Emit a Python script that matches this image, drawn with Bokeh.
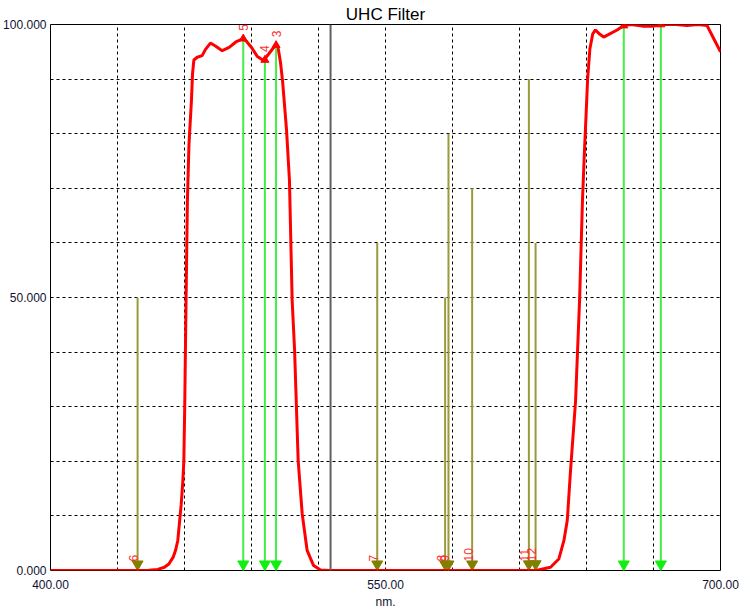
import numpy as np
from bokeh.plotting import figure
from bokeh.models import Range1d, FixedTicker, Span
from bokeh.embed import file_html
from bokeh.resources import INLINE
from bokeh.core.properties import value

# ---------------- data ----------------
wavelength_nm = [400, 430, 440, 444, 448, 451, 453, 455, 456, 457, 457.8, 458.5, 459.2,
                 459.7, 460.1, 460.4, 460.7, 461.3, 462.0, 463.1, 463.6, 464.2, 465.7,
                 467.9, 469.5, 471.6, 474.0, 476.9, 480.0, 483.0, 486.3, 488.0, 490.0,
                 492.5, 495.4, 497.5, 500.7, 502.0, 503.0, 503.9, 505.7, 507.0, 508.2,
                 509.3, 510.9, 512.7, 514.9, 517.8, 520.9, 525, 560, 600, 612, 617.9,
                 623.9, 627.6, 629.9, 631.4, 632.8, 635.1, 636.9, 638.2, 639.1, 639.7,
                 640.5, 641.5, 642.8, 644.0, 646.0, 647.7, 650.0, 653.7, 656.7, 660, 665,
                 670, 675, 680, 685, 690, 694, 697, 700]
transmission_pct = [0, 0, 0, 0.05, 0.2, 0.6, 1.2, 2.5, 3.7, 5.5, 9, 12, 16,
                    20, 30, 40, 49.5, 67.8, 78, 86, 91, 93.5, 94,
                    94.3, 95.5, 96.6, 96.0, 95.2, 95.8, 96.8, 97.4, 96.8, 95.8,
                    94.2, 93.4, 94.5, 96.2, 95.5, 93.0, 89.7, 80.6, 71.4, 49.5,
                    40.3, 20.1, 10.4, 3.7, 0.9, 0.1, 0, 0, 0, 0, 0.05,
                    0.6, 2.1, 5.5, 9.2, 18, 31, 49.5, 67.8, 77, 82.4,
                    90.0, 95.5, 98.3, 99.0, 98.2, 97.7, 98.2, 99.0, 99.8, 100, 99.7,
                    99.7, 100, 100, 99.8, 100, 99.8, 97.4, 95.0]

green_nm = [486.3, 496.0, 501.0, 656.7, 673.3]
green_pct = [97.4, 93.5, 96.2, 99.8, 100.0]
green_labels = ["5", "4", "3", "2", "1"]

olive_nm = [439.0, 546.3, 576.7, 578.2, 588.8, 614.2, 617.2]
olive_top = [50, 60, 50, 80, 70, 90, 60]
olive_labels = ["6", "7", "8", "9", "10", "11", "12"]

cursor_nm = 525.4

x_tick_values = [400, 550, 700]
x_tick_labels = ["400.00", "550.00", "700.00"]
y_tick_values = [0, 50, 100]
y_tick_labels = ["0.000", "50.000", "100.000"]
x_grid_values = [430, 460, 490, 520, 550, 580, 610, 640, 670]
y_grid_values = [10, 20, 30, 40, 50, 60, 70, 80, 90]

title_text = "UHC Filter"
x_label = "nm."

# ---------------- figure ----------------
FONT = "Liberation Sans"
W, H = 750, 611
B_LEFT, B_RIGHT, B_TOP, B_BOTTOM = 50, 30, 24, 41
p = figure(width=W, height=H, output_backend="svg", toolbar_location=None,
           x_range=Range1d(400, 700), y_range=Range1d(0, 100),
           min_border_left=B_LEFT, min_border_right=B_RIGHT, min_border_top=B_TOP,
           min_border_bottom=B_BOTTOM, title=title_text)
p.background_fill_color = "white"
p.border_fill_color = "white"
p.outline_line_color = "black"
p.outline_line_width = 1

p.title.align = "center"
p.title.text_font = FONT
p.title.text_font_size = "17px"
p.title.text_font_style = "normal"
p.title.text_color = "black"
p.title.standoff = 2
p.title.offset = 0

# axes
for ax in (p.xaxis[0], p.yaxis[0]):
    ax.major_tick_line_color = None
    ax.minor_tick_line_color = None
    ax.axis_line_color = None
    ax.major_tick_out = 0
    ax.major_tick_in = 0
    ax.major_label_text_font = FONT
    ax.major_label_text_color = "#111133"
    ax.major_label_text_font_size = "12px"

p.xaxis.ticker = FixedTicker(ticks=x_tick_values)
p.xaxis.major_label_overrides = dict(zip(x_tick_values, x_tick_labels))
p.xaxis.major_label_standoff = 9
p.xaxis.axis_label = x_label
p.xaxis.axis_label_text_font = FONT
p.xaxis.axis_label_text_font_style = "normal"
p.xaxis.axis_label_text_font_size = "12px"
p.xaxis.axis_label_text_color = "#111133"
p.xaxis.axis_label_standoff = 3

p.yaxis.ticker = FixedTicker(ticks=y_tick_values)
p.yaxis.major_label_overrides = dict(zip(y_tick_values, y_tick_labels))
p.yaxis.major_label_standoff = 4

# grids
p.xgrid.ticker = FixedTicker(ticks=x_grid_values)
p.ygrid.ticker = FixedTicker(ticks=y_grid_values)
for g in (p.xgrid[0], p.ygrid[0]):
    g.grid_line_color = "black"
    g.grid_line_dash = "3 3"
    g.grid_line_width = 1

# cursor line
p.add_layout(Span(location=cursor_nm, dimension="height", line_color="#606060",
                  line_width=2))

# marker geometry (triangle apex on the target value)
px_per_unit = (H - B_TOP - B_BOTTOM) / 100.0
tri_size = 11
tri_apex_px = (tri_size / 2) * np.sqrt(3) * 2 / 3
tri_shift = tri_apex_px / px_per_unit

olive_base = list(np.interp(olive_nm, wavelength_nm, transmission_pct))

# olive markers
p.segment(x0=olive_nm, y0=olive_top, x1=olive_nm, y1=olive_base,
          line_color="#9a9a3a", line_width=2)
p.scatter(x=olive_nm, y=[b + tri_shift for b in olive_base], marker="inverted_triangle",
          size=tri_size, fill_color="#808000", line_color="#808000")

# curve
p.line(wavelength_nm, transmission_pct, line_color="#ff0000", line_width=3)

# green markers
p.segment(x0=green_nm, y0=green_pct, x1=green_nm, y1=[0] * len(green_nm),
          line_color="#44ee44", line_width=2)
p.scatter(x=green_nm, y=[tri_shift] * len(green_nm), marker="inverted_triangle",
          size=tri_size, fill_color="#11ee11", line_color="#11ee11")
p.scatter(x=green_nm, y=green_pct, marker="triangle", size=8,
          fill_color="#ff0000", line_color="#ff0000")

# labels
p.text(x=green_nm, y=green_pct, text=green_labels, angle=np.pi / 2,
       text_align="left", text_baseline="middle", y_offset=-8,
       text_color="#ff3030", text_font=value(FONT), text_font_size="12px")
p.text(x=olive_nm, y=olive_base, text=olive_labels, angle=np.pi / 2,
       text_align="left", text_baseline="middle", x_offset=-4, y_offset=-9,
       text_color="#ff3030", text_font=value(FONT), text_font_size="12px")

open("out.html", "w").write(file_html(p, INLINE))
